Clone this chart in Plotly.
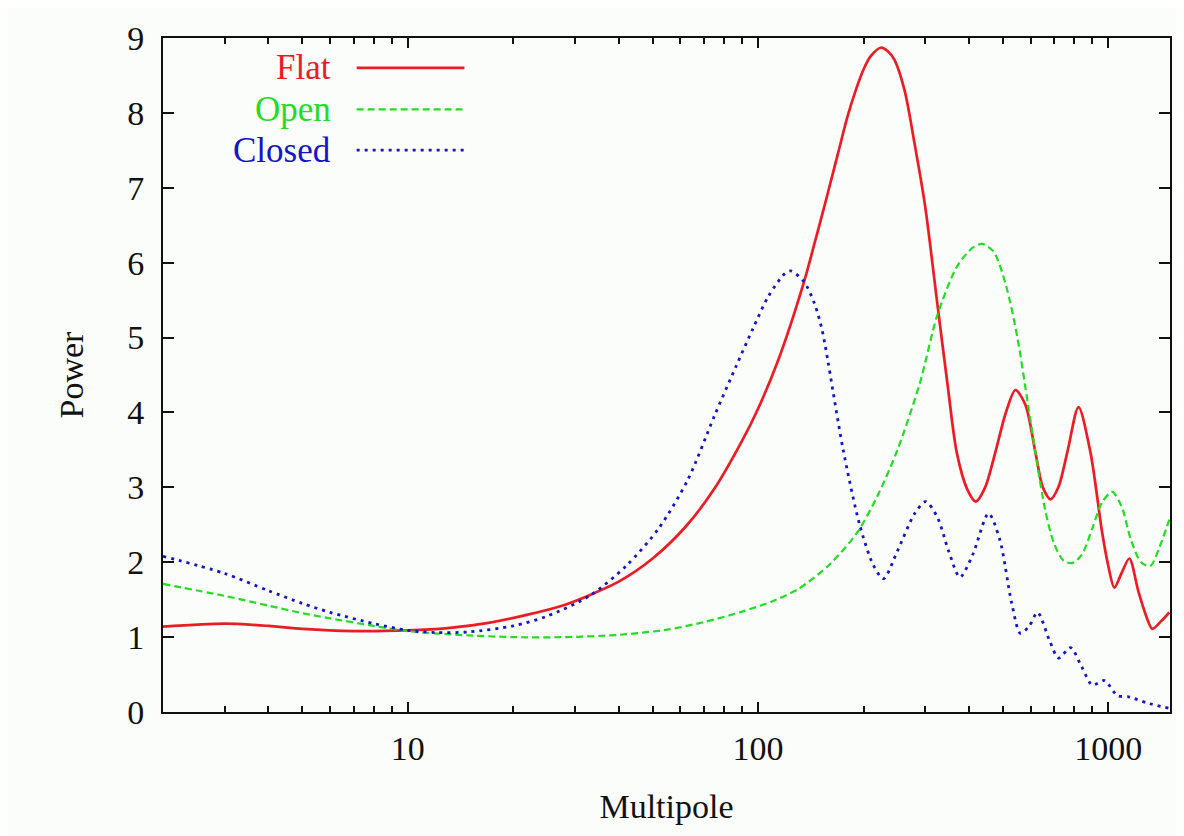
import plotly.graph_objects as go

# ---------------- data ----------------
flat_l = [2, 3, 4, 5, 7, 10, 13, 17, 22, 28, 33, 40, 50, 62, 75, 90, 100, 114,
          135, 145, 157, 170, 180, 190, 200, 210, 224, 235, 245, 262, 280, 300,
          325, 348, 369, 395, 418, 445, 476, 510, 543, 580, 619, 650, 684, 720, 764, 822,
          889, 960, 1000, 1040, 1090, 1148, 1220, 1290, 1335, 1420, 1493]
flat_p = [1.14, 1.18, 1.15, 1.11, 1.08, 1.09, 1.12, 1.19, 1.30, 1.43, 1.56, 1.74, 2.05, 2.47,
          2.98, 3.62, 4.05, 4.69, 5.73, 6.26, 6.87, 7.50, 7.95, 8.30,
          8.58, 8.76, 8.87, 8.82, 8.71, 8.30, 7.58, 6.75, 5.45, 4.35, 3.47, 2.98, 2.81, 3.00,
          3.47, 4.00, 4.30, 4.10, 3.47, 3.00, 2.84, 3.00, 3.47, 4.07, 3.47, 2.40, 1.95, 1.66,
          1.85, 2.05, 1.60, 1.25, 1.11, 1.22, 1.33]

open_l = [2, 3, 4, 5, 6, 8, 10, 14, 20, 28, 40, 55, 70, 90, 110, 130, 160, 192, 220, 250,
          290, 325, 370, 410, 436, 470, 510, 550, 590, 619, 660, 700, 745, 790, 840, 900,
          960, 1026, 1090, 1160, 1240, 1318, 1400, 1493]
open_p = [1.71, 1.55, 1.42, 1.32, 1.25, 1.15, 1.08, 1.03, 1.00, 1.00, 1.03, 1.10, 1.20, 1.34,
          1.48, 1.64, 1.97, 2.40, 2.90, 3.50, 4.40, 5.30, 5.95, 6.20, 6.25, 6.15, 5.70, 5.00,
          4.10, 3.47, 2.70, 2.25, 2.02, 1.99, 2.10, 2.45, 2.80, 2.94, 2.75, 2.30, 2.00, 1.95,
          2.20, 2.57]

closed_l = [2, 3, 4, 5, 6, 8, 10, 12, 15, 20, 25, 33, 42, 52, 63, 75, 86.6, 96.7, 107, 119,
            124, 135, 145, 152, 157, 175, 195, 213, 228, 250, 280, 301, 325, 350, 377, 410,
            455, 490, 530, 561, 595, 628, 680, 721, 780, 840, 900, 975, 1061, 1150, 1291, 1493]
closed_p = [2.08, 1.85, 1.62, 1.45, 1.33, 1.18, 1.09, 1.06, 1.07, 1.15, 1.28, 1.55, 1.95,
            2.45, 3.10, 3.95, 4.62, 5.12, 5.55, 5.85, 5.89, 5.75, 5.45, 5.12, 4.78, 3.50,
            2.50, 1.97, 1.78, 2.15, 2.65, 2.81, 2.60, 2.15, 1.80, 2.10, 2.65, 2.30, 1.45,
            1.05, 1.15, 1.33, 0.95, 0.72, 0.86, 0.60, 0.36, 0.42, 0.22, 0.20, 0.12, 0.05]

series_names = ["Flat", "Open", "Closed"]
x_tick_vals = [10, 100, 1000]
x_tick_text = ["10", "100", "1000"]
x_minor_vals = [3, 4, 5, 6, 7, 8, 9, 20, 30, 40, 50, 60, 70, 80, 90,
                200, 300, 400, 500, 600, 700, 800, 900]
y_tick_vals = list(range(0, 10))

# ---------------- style ----------------
RED = "#ec1c24"
GREEN = "#22dd22"
BLUE = "#1414c8"
FONT = "Liberation Serif"
BG = "#fbfdfb"

fig = go.Figure()
fig.add_trace(go.Scatter(x=flat_l, y=flat_p, mode="lines", name=series_names[0],
                         line=dict(color=RED, width=2.7, shape="spline", smoothing=0.8)))
fig.add_trace(go.Scatter(x=open_l, y=open_p, mode="lines", name=series_names[1],
                         line=dict(color=GREEN, width=2.2, dash="7px,4px", shape="spline", smoothing=0.8)))
fig.add_trace(go.Scatter(x=closed_l, y=closed_p, mode="lines", name=series_names[2],
                         line=dict(color=BLUE, width=2.8, dash="3px,5px", shape="spline", smoothing=0.8)))

# gnuplot-style key: text right-aligned, sample line to the right
key_y = [0.9558, 0.894, 0.8336]
key_colors = [RED, GREEN, BLUE]
key_dash = ["solid", "7px,4px", "3px,5px"]
key_width = [2.7, 2.2, 2.8]
for name, yy, col, dsh, w in zip(series_names, key_y, key_colors, key_dash, key_width):
    fig.add_annotation(xref="paper", yref="paper", x=0.1685, y=yy, text=name,
                       showarrow=False, xanchor="right", yanchor="middle",
                       font=dict(family=FONT, size=35, color=col))
    fig.add_shape(type="line", xref="paper", yref="paper", x0=0.1923, x1=0.2993,
                  y0=yy, y1=yy, line=dict(color=col, width=w, dash=dsh))

# page body adds an 8px margin, so the figure is 8px smaller and margins shifted
fig.update_layout(
    width=1176, height=828,
    margin=dict(l=155, r=12, t=25, b=124),
    paper_bgcolor=BG, plot_bgcolor=BG,
    showlegend=False,
    font=dict(family=FONT, size=34, color="#111111"),
)
fig.update_xaxes(
    type="log", range=[0.30103, 3.1761],
    tickmode="array", tickvals=x_tick_vals, ticktext=x_tick_text,
    ticks="inside", ticklen=10, tickwidth=1.5, tickcolor="#111111",
    showline=True, linecolor="#111111", linewidth=2, mirror="allticks",
    showgrid=False, zeroline=False,
    minor=dict(tickmode="array", tickvals=x_minor_vals, ticks="inside", ticklen=6,
               tickwidth=1.5, tickcolor="#111111", showgrid=False),
    ticklabelstandoff=5,
    title=dict(text="Multipole", font=dict(family=FONT, size=34), standoff=28),
)
fig.update_yaxes(
    range=[0, 9], tickmode="array", tickvals=y_tick_vals,
    ticks="inside", ticklen=11, tickwidth=1.5, tickcolor="#111111",
    showline=True, linecolor="#111111", linewidth=2, mirror="allticks",
    showgrid=False, zeroline=False,
    ticklabelstandoff=10,
    title=dict(text="Power", font=dict(family=FONT, size=34), standoff=33),
)

fig.write_html("out.html")
